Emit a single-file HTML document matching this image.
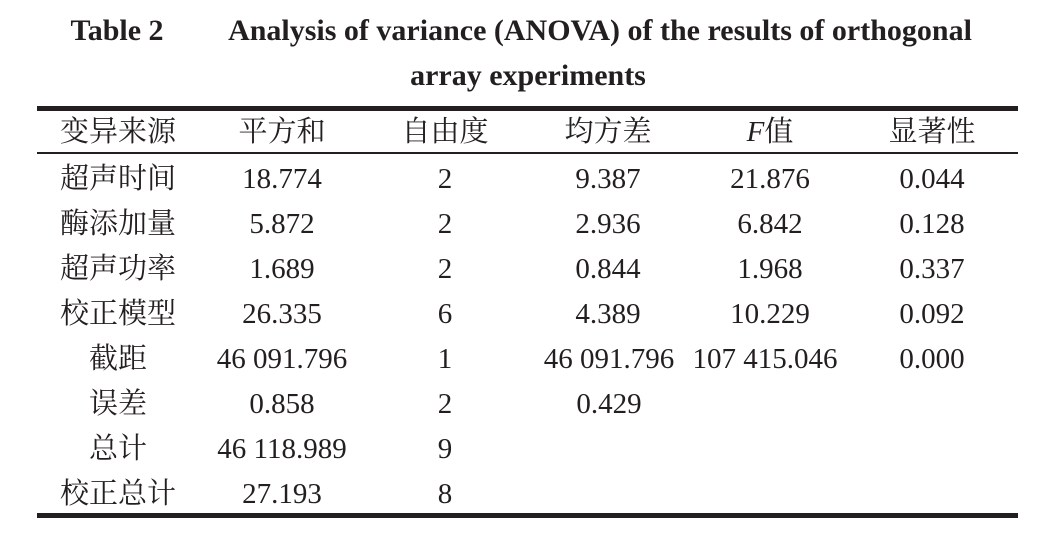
<!DOCTYPE html>
<html><head><meta charset="utf-8"><style>
body{margin:0;background:#fff;width:1061px;height:547px;overflow:hidden}
svg text{font-family:"Liberation Serif","Noto Serif CJK SC",serif;fill:#231f20}
</style></head><body>
<svg width="1061" height="547">
<g font-weight="bold" font-size="30" text-anchor="middle">
<text x="528" y="40"><tspan x="117" text-anchor="middle">Table 2</tspan><tspan x="600" text-anchor="middle">Analysis of variance (ANOVA) of the results of orthogonal</tspan></text>
<text x="528" y="85">array experiments</text>
</g>
<rect x="37" y="106" width="981" height="5" fill="#231f20"/>
<rect x="37" y="152" width="981" height="2" fill="#231f20"/>
<rect x="37" y="513" width="981" height="5" fill="#231f20"/>
<g id="body" font-size="29" text-anchor="middle"></g>
</svg>
<script>
const header=["变异来源","平方和","自由度","均方差","F值","显著性"];
const rowLabels=["超声时间","酶添加量","超声功率","校正模型","截距","误差","总计","校正总计"];
const sumSq=["18.774","5.872","1.689","26.335","46 091.796","0.858","46 118.989","27.193"];
const dfs=["2","2","2","6","1","2","9","8"];
const meanSq=["9.387","2.936","0.844","4.389","46 091.796","0.429","",""];
const fVals=["21.876","6.842","1.968","10.229","107 415.046","","",""];
const sig=["0.044","0.128","0.337","0.092","0.000","","",""];
const g=document.getElementById('body');
const cx=[118,282,445,608,770,932];
function t(x,y,s,name,anchor){const e=document.createElementNS('http://www.w3.org/2000/svg','text');
e.setAttribute('x',x);e.setAttribute('y',y);if(anchor)e.setAttribute('text-anchor',anchor);
e.textContent=s;


g.appendChild(e);return e;}
header.forEach((h,i)=>{const e=t(cx[i],141,h,'header-cell');if(i==4){e.textContent='';const a=document.createElementNS('http://www.w3.org/2000/svg','tspan');a.setAttribute('font-style','italic');a.textContent='F';e.appendChild(a);e.appendChild(document.createTextNode('值'));}});
rowLabels.forEach((r,i)=>{const y=188+i*45;
const ind=(i>=4&&i<=6);
t(ind?118:118,y,r,'row-label');
t(cx[1],y,sumSq[i],'sum-of-squares-cell');
t(cx[2],y,dfs[i],'df-cell');
if(meanSq[i])t(i==5?609:(i==4?609:cx[3]),y,meanSq[i],'mean-square-cell');
if(fVals[i])t(i==4?765:cx[4],y,fVals[i],'f-value-cell');
if(sig[i])t(cx[5],y,sig[i],'significance-cell');});
</script>
</body></html>
